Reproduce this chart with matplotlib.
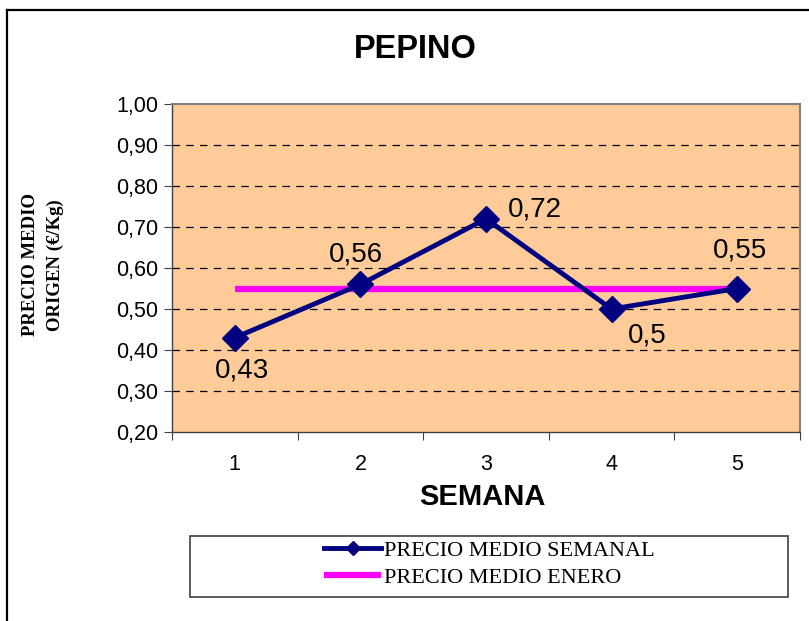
import matplotlib
matplotlib.use('Agg')
import matplotlib.pyplot as plt
from matplotlib.lines import Line2D
from matplotlib.patches import Rectangle

semanas = [1, 2, 3, 4, 5]
precio_semanal = [0.43, 0.56, 0.72, 0.50, 0.55]
precio_enero = [0.55, 0.55, 0.55, 0.55, 0.55]
yticks = [0.20, 0.30, 0.40, 0.50, 0.60, 0.70, 0.80, 0.90, 1.00]

# label offsets in pixels (dx, dy)
offsets = [(7, -33), (-4, 30), (49, 9), (36, -26), (3, 38)]

W, H = 809, 621
fig = plt.figure(figsize=(W / 100, H / 100), dpi=100)
ax = fig.add_axes([172 / W, 1 - 432 / H, 628 / W, 328 / H])
ax.set_facecolor('#FFCC99')

for y in yticks[1:-1]:
    ax.axhline(y, color='black', lw=0.9, ls=(0, (6, 5)), zorder=1)

ax.plot(semanas, precio_enero, color='#FF00FF', lw=4.5, zorder=2,
        solid_capstyle='butt', label='PRECIO MEDIO ENERO')
ax.plot(semanas, precio_semanal, color='#000080', lw=3.5, marker='D',
        markersize=13, zorder=3, label='PRECIO MEDIO SEMANAL')

for x, v, off in zip(semanas, precio_semanal, offsets):
    ax.annotate(('%g' % v).replace('.', ','), (x, v), xytext=off,
                textcoords='offset pixels', ha='center', va='center',
                fontsize=20, family='Liberation Sans', zorder=4)

ax.set_xlim(0.5, 5.5)
ax.set_ylim(0.2, 1.0)
ax.set_yticks(yticks)
ax.set_yticklabels([('%.2f' % t).replace('.', ',') for t in yticks],
                   family='Liberation Sans', fontsize=15.5)
ax.set_xticks([0.5, 1.5, 2.5, 3.5, 4.5, 5.5])
ax.set_xticklabels([])
ax.set_xticks(semanas, minor=True)
ax.set_xticklabels([str(s) for s in semanas], minor=True,
                   family='Liberation Sans', fontsize=15.5)
ax.tick_params(axis='x', which='major', direction='out', length=6, color='#404040')
ax.tick_params(axis='x', which='minor', length=0, pad=16)
ax.tick_params(axis='y', direction='out', length=6, color='#404040', pad=4)

for s in ['top', 'right']:
    ax.spines[s].set_color('#808080')
    ax.spines[s].set_linewidth(1.5)
for s in ['left', 'bottom']:
    ax.spines[s].set_color('#404040')
    ax.spines[s].set_linewidth(1.0)

fig.text(415 / W, 1 - 50 / H, 'PEPINO', ha='center', va='center',
         fontsize=23.5, fontweight='bold', family='Liberation Sans')
fig.text(482 / W, 1 - 497 / H, 'SEMANA', ha='center', va='center',
         fontsize=21, fontweight='bold', family='Liberation Sans')
fig.text(43 / W, 1 - 265 / H, 'PRECIO MEDIO\nORIGEN (€/Kg)', ha='center',
         va='center', rotation=90, fontsize=13.5, fontweight='bold',
         family='Liberation Serif', linespacing=1.55)

# outer chart border (top and left visible)
fig.add_artist(Line2D([7 / W, 7 / W], [0, 1 - 10 / H], transform=fig.transFigure,
                      color='black', lw=1.6))
fig.add_artist(Line2D([7 / W, 1], [1 - 10 / H, 1 - 10 / H], transform=fig.transFigure,
                      color='black', lw=1.6))

# legend box
fig.add_artist(Rectangle((190 / W, 1 - 597 / H), 598 / W, 61 / H,
                         transform=fig.transFigure, fill=False,
                         edgecolor='#404040', lw=1.2))
h, l = ax.get_legend_handles_labels()
fig.legend(h[::-1], l[::-1], loc='center', bbox_to_anchor=(489 / W, 1 - 564 / H),
           frameon=False, prop={'family': 'Liberation Serif', 'size': 16},
           handlelength=2.6, handletextpad=0.1, labelspacing=0.3,
           markerscale=0.55)

fig.savefig('out.png', dpi=100)
